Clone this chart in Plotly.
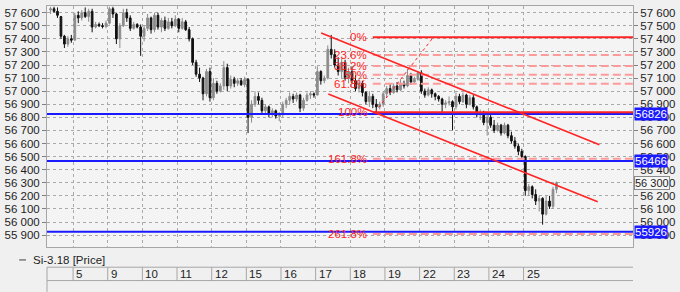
import plotly.graph_objects as go

# ---------------- data ----------------
day_labels = ["5", "9", "10", "11", "12", "15", "16", "17", "18", "19", "22", "23", "24", "25"]
bars_per_day = 10
lead_bars = 7  # partial day before "5"

opens = [57620, 57630, 57610, 57570, 57420, 57360, 57400,
         57390, 57580, 57560, 57600, 57570, 57610, 57490, 57510, 57500, 57495,
         57520, 57630, 57590, 57400, 57500, 57600, 57560, 57480, 57510, 57490,
         57420, 57480, 57560, 57470, 57580, 57490, 57540, 57480, 57530, 57500,
         57550, 57480, 57530, 57470, 57400, 57220, 57130, 57100, 56980, 57150,
         56950, 57060, 57000, 57040, 57180, 57040, 57090, 57060, 57080, 57050,
         57090, 56800, 56900, 56960, 56930, 56850, 56880, 56830, 56850, 56810,
         56820, 56900, 56930, 56960, 56940, 56970, 56870, 56930, 56970, 56980,
         56970, 57150, 57080, 57100, 57320, 57280, 57200, 57150, 57220, 57100,
         57150, 57080, 57020, 57060, 56990, 56920, 56960, 56900, 56880, 56900,
         56980, 57020, 56990, 57040, 57010, 57060, 57040, 57120, 57070, 57090,
         57140, 57000, 56970, 57010, 56980, 56960, 56940, 56900, 56910, 56920,
         56880, 56960, 56920, 56970, 56900, 56950, 56880, 56820, 56840, 56760,
         56800, 56740, 56700, 56740, 56680, 56740, 56660, 56620, 56580, 56540,
         56500, 56240, 56270, 56210, 56160, 56180, 56060, 56160, 56120, 56250]
highs = [57645, 57645, 57640, 57575, 57430, 57420, 57430,
         57600, 57610, 57620, 57640, 57630, 57630, 57530, 57525, 57520, 57540,
         57645, 57645, 57600, 57520, 57630, 57630, 57580, 57530, 57520, 57510,
         57500, 57590, 57570, 57600, 57600, 57560, 57570, 57560, 57560, 57580,
         57560, 57560, 57545, 57490, 57410, 57240, 57180, 57110, 57170, 57180,
         57100, 57080, 57060, 57230, 57210, 57120, 57110, 57100, 57100, 57110,
         57100, 56930, 57000, 56990, 56950, 56900, 56890, 56870, 56860, 56840,
         56920, 56950, 56990, 56980, 56990, 56980, 56950, 56990, 57000, 56990,
         57190, 57160, 57120, 57350, 57430, 57320, 57260, 57250, 57240, 57180,
         57190, 57120, 57100, 57080, 57000, 57000, 56980, 56940, 56920, 57000,
         57040, 57060, 57060, 57070, 57090, 57080, 57170, 57140, 57110, 57150,
         57160, 57020, 57030, 57020, 56990, 56970, 56950, 56930, 56960, 56930,
         56990, 56980, 56990, 56980, 56970, 56970, 56890, 56860, 56850, 56840,
         56830, 56780, 56760, 56750, 56760, 56750, 56690, 56650, 56600, 56560,
         56510, 56290, 56280, 56250, 56200, 56190, 56200, 56200, 56270, 56310]
lows = [57590, 57600, 57560, 57400, 57330, 57340, 57370,
        57390, 57520, 57540, 57560, 57530, 57450, 57480, 57490, 57480, 57480,
        57510, 57560, 57360, 57330, 57490, 57530, 57460, 57470, 57480, 57270,
        57380, 57460, 57440, 57450, 57470, 57450, 57460, 57470, 57480, 57490,
        57450, 57470, 57460, 57380, 57200, 57110, 57070, 56930, 56960, 56920,
        56930, 56980, 56990, 57010, 57000, 57020, 57030, 57040, 57040, 57030,
        56680, 56760, 56880, 56900, 56830, 56820, 56800, 56800, 56790, 56770,
        56800, 56870, 56900, 56910, 56920, 56840, 56850, 56920, 56940, 56950,
        56970, 57050, 57060, 57090, 57250, 57180, 57120, 57100, 57080, 57060,
        57060, 57000, 56990, 56960, 56900, 56880, 56870, 56840, 56860, 56880,
        56950, 56970, 56980, 56990, 57000, 57020, 57030, 57050, 57060, 57080,
        56980, 56950, 56960, 56950, 56930, 56920, 56840, 56870, 56890, 56700,
        56860, 56900, 56910, 56870, 56890, 56860, 56800, 56780, 56740, 56660,
        56720, 56680, 56690, 56660, 56670, 56640, 56600, 56560, 56510, 56480,
        56200, 56200, 56180, 56130, 56080, 55980, 56050, 56100, 56100, 56220]
closes = [57630, 57610, 57580, 57420, 57360, 57400, 57390,
          57580, 57560, 57600, 57570, 57610, 57490, 57510, 57500, 57495, 57520,
          57630, 57590, 57400, 57500, 57600, 57560, 57480, 57510, 57490, 57420,
          57480, 57560, 57470, 57580, 57490, 57540, 57480, 57530, 57500, 57550,
          57480, 57530, 57470, 57400, 57220, 57130, 57100, 56980, 57150, 56950,
          57060, 57000, 57040, 57180, 57040, 57090, 57060, 57080, 57050, 57090,
          56800, 56900, 56960, 56930, 56850, 56880, 56830, 56850, 56810, 56820,
          56900, 56930, 56960, 56940, 56970, 56870, 56930, 56970, 56980, 56970,
          57150, 57080, 57100, 57320, 57280, 57200, 57150, 57220, 57100, 57150,
          57080, 57020, 57060, 56990, 56920, 56960, 56900, 56880, 56900, 56980,
          57020, 56990, 57040, 57010, 57060, 57040, 57120, 57070, 57090, 57140,
          57000, 56970, 57010, 56980, 56960, 56940, 56900, 56910, 56920, 56880,
          56960, 56920, 56970, 56900, 56950, 56880, 56820, 56840, 56760, 56800,
          56740, 56700, 56740, 56680, 56740, 56660, 56620, 56580, 56540, 56500,
          56240, 56270, 56210, 56160, 56180, 56060, 56160, 56120, 56250, 56300]

blue_levels = [56826, 56466, 55926]

fib_ratios = [0.0, 0.236, 0.382, 0.5, 0.618, 1.0, 1.618, 2.618]
fib_labels = ["0%", "23.6%", "38.2%", "50%", "61.8%", "100%", "161.8%", "261.8%"]
fib_zero = 57413
fib_hundred = 56838
fib_anchor_bars = [93.6, 110.5]
fib_start_bar = 93.0
fib_label_bar = 91.8

channel_upper_bars = [78.1, 158.4]
channel_upper_vals = [57445, 56591]
channel_lower_bars = [80.15, 157.9]
channel_lower_vals = [56979, 56154]

legend_text = "Si-3.18 [Price]"

# ---------------- layout constants ----------------
W, H = 680, 292
ML, MR, MT, MB = 41, 39, 5, 45
PLOT_H = H - MT - MB
PLOT_W = W - ML - MR


def yp(py):
    return (H - MB - py) / PLOT_H


def xp(px):
    return (px - ML) / PLOT_W


n = len(closes)
xs = list(range(n))
boundaries = [lead_bars - 0.5 + k * bars_per_day for k in range(len(day_labels) + 1)]

FONT = "Liberation Sans, Arial, sans-serif"
FS = 11
RED = "#ff2424"
PINK = "#ff9a9a"
BLUE = "#1a1aff"
GRID = "#a9a9a9"
TXT = "#1e1e1e"

fig = go.Figure()
fig.add_trace(go.Candlestick(
    x=xs, open=opens, high=highs, low=lows, close=closes,
    increasing=dict(line=dict(color="#8c8c8c", width=1), fillcolor="#8c8c8c"),
    decreasing=dict(line=dict(color="#111111", width=1), fillcolor="#111111"),
    whiskerwidth=0, showlegend=False, hoverinfo="skip"))
fig.add_trace(go.Scatter(x=[xs[-1]], y=[closes[-1]], yaxis="y2", mode="markers",
                         marker=dict(opacity=0), showlegend=False, hoverinfo="skip"))

shapes = []
annotations = []

# blue horizontal levels
for lv in blue_levels:
    shapes.append(dict(type="line", xref="paper", yref="y", x0=0, x1=1, y0=lv, y1=lv,
                       line=dict(color=BLUE, width=2)))

# fibonacci
rng = fib_zero - fib_hundred
for r, lab in zip(fib_ratios, fib_labels):
    lv = fib_zero - r * rng
    solid = r in (0.0, 1.0)
    shapes.append(dict(type="line", xref="x", yref="y", x0=fib_start_bar, x1=1000,
                       y0=lv, y1=lv,
                       line=dict(color=RED if solid else PINK, width=2,
                                 dash="solid" if solid else "8px,4px")))
    annotations.append(dict(x=fib_label_bar, y=lv, xref="x", yref="y", text=lab,
                            showarrow=False, xanchor="right", yanchor="middle",
                            font=dict(family=FONT, size=FS + 0.5, color=RED)))
shapes.append(dict(type="line", xref="x", yref="y",
                   x0=fib_anchor_bars[0], y0=fib_hundred, x1=fib_anchor_bars[1], y1=fib_zero,
                   line=dict(color=RED, width=1, dash="dot")))

# channel
shapes.append(dict(type="line", xref="x", yref="y",
                   x0=channel_upper_bars[0], y0=channel_upper_vals[0],
                   x1=channel_upper_bars[1], y1=channel_upper_vals[1],
                   line=dict(color=RED, width=1.6)))
shapes.append(dict(type="line", xref="x", yref="y",
                   x0=channel_lower_bars[0], y0=channel_lower_vals[0],
                   x1=channel_lower_bars[1], y1=channel_lower_vals[1],
                   line=dict(color=RED, width=1.6)))

# right-side value boxes
for lv in blue_levels:
    annotations.append(dict(x=1, xref="paper", y=lv, yref="y", text=str(lv),
                            showarrow=False, xanchor="left", xshift=1, yanchor="middle",
                            bgcolor=BLUE, borderpad=0,
                            font=dict(family=FONT, size=FS + 0.5, color="white")))
last = closes[-1]
annotations.append(dict(x=1, xref="paper", y=last, yref="y",
                        text=f"{last // 1000} {last % 1000:03d}",
                        showarrow=False, xanchor="left", xshift=1, yanchor="middle",
                        bgcolor="#f6f6f6", bordercolor="#8a8a8a", borderwidth=1, borderpad=0,
                        font=dict(family=FONT, size=FS, color=TXT)))

# date row
LINE_C = "#a6a6a6"
shapes.append(dict(type="line", xref="paper", yref="paper", x0=0, x1=1,
                   y0=yp(267.3), y1=yp(267.3), line=dict(color=LINE_C, width=1)))
shapes.append(dict(type="line", xref="paper", yref="paper", x0=0, x1=1,
                   y0=yp(280.7), y1=yp(280.7), line=dict(color=LINE_C, width=1)))
shapes.append(dict(type="line", xref="paper", yref="paper", x0=0, x1=0,
                   y0=yp(267.3), y1=yp(292), line=dict(color=LINE_C, width=1)))
for k, lab in enumerate(day_labels):
    shapes.append(dict(type="line", xref="x", yref="paper", x0=boundaries[k], x1=boundaries[k],
                       y0=yp(267.3), y1=yp(280.7), line=dict(color=LINE_C, width=1)))
    annotations.append(dict(x=boundaries[k], xref="x", y=yp(274), yref="paper", text=lab,
                            showarrow=False, xanchor="left", xshift=1, yanchor="middle",
                            font=dict(family=FONT, size=FS + 0.5, color=TXT)))

# legend line
shapes.append(dict(type="line", xref="paper", yref="paper", x0=xp(12.5), x1=xp(19.5),
                   y0=yp(260), y1=yp(260), line=dict(color="#404040", width=1)))
annotations.append(dict(x=xp(25), xref="paper", y=yp(260), yref="paper", text=legend_text,
                        showarrow=False, xanchor="left", yanchor="middle",
                        font=dict(family=FONT, size=FS + 0.5, color=TXT)))

xr = [lead_bars - 0.5 - (67.7 - ML) / 3.548, lead_bars - 0.5 + (W - MR - 67.7) / 3.548]
yr = [55809, 57651]

fig.update_layout(
    width=W, height=H,
    margin=dict(l=ML, r=MR, t=MT, b=MB, pad=0),
    paper_bgcolor="#f0f0f0", plot_bgcolor="#f4f4f4",
    separators=". ",
    font=dict(family=FONT, size=FS, color=TXT),
    showlegend=False,
    shapes=shapes, annotations=annotations,
    xaxis=dict(range=xr, tickvals=boundaries[:-1], showticklabels=False, ticks="",
               showgrid=True, gridcolor=GRID, griddash="dot", gridwidth=1,
               showline=True, mirror=True, linecolor=LINE_C, zeroline=False,
               rangeslider=dict(visible=False), fixedrange=True),
    yaxis=dict(range=yr, tick0=0, dtick=100, tickformat=",d", ticks="outside", ticklen=4,
               tickcolor="#808080", showgrid=True, gridcolor=GRID, griddash="dot",
               showline=True, mirror=True, linecolor=LINE_C, zeroline=False,
               tickfont=dict(family=FONT, size=FS + 0.5, color=TXT)),
    yaxis2=dict(range=yr, overlaying="y", side="right", tick0=0, dtick=100, tickformat=",d",
                ticks="outside", ticklen=4, tickcolor="#808080", showgrid=False,
                showline=False, zeroline=False,
                tickfont=dict(family=FONT, size=FS + 0.5, color=TXT)),
)

fig.write_html("out.html")
